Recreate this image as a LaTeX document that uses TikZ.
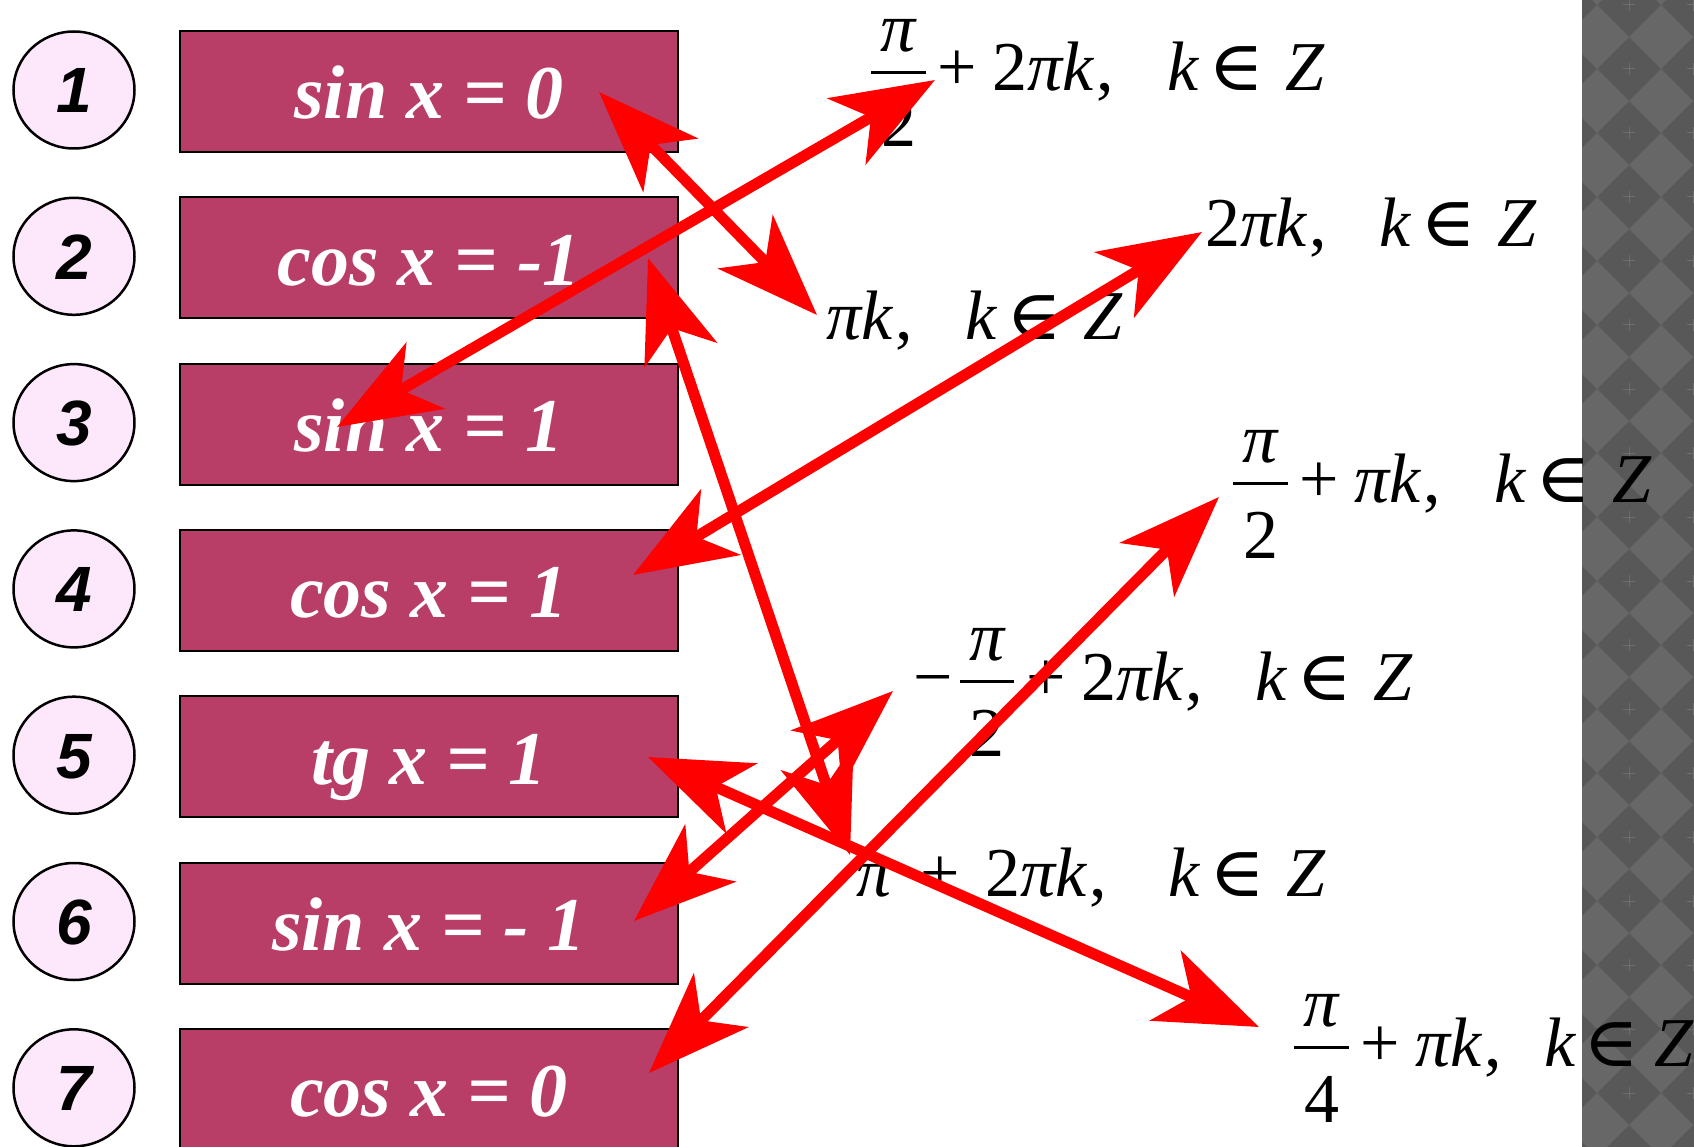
\documentclass[tikz,border=0pt]{standalone}
\usepackage{fontspec}
\usepackage{graphicx}
\setmainfont{Liberation Serif}
\newfontfamily\sansf{Liberation Sans}
\newfontfamily\symf{DejaVu Serif}
\usetikzlibrary{arrows.meta,shapes.geometric}
\definecolor{boxfill}{RGB}{184,62,104}
\definecolor{circfill}{RGB}{252,232,250}
\definecolor{stripdark}{RGB}{88,88,88}
\definecolor{striplight}{RGB}{103,103,103}
\definecolor{stripcross}{RGB}{110,110,110}
\definecolor{arrowred}{RGB}{255,0,0}
\newcommand\mI[1]{{\itshape #1}}
\newcommand\myfr[2]{\hbox{\setbox0\hbox{#1}\setbox2\hbox{#2}\dimen0=0.78em
  \rlap{\raise0.57em\hbox to\dimen0{\hss\box0\hss}}%
  \rlap{\raise0.245em\hbox{\vrule width\dimen0 height0.04em depth0pt}}%
  \lower0.8em\hbox to\dimen0{\hss\box2\hss}}}
\newcommand\pls{\hspace{0.17em}+\hspace{0.22em}}
\newcommand\cmk[1][0.76em]{\hspace{0.04em},\hspace{#1}}
\newcommand\inZ{\mI{k}\hspace{0.14em}\scalebox{1.08}[1]{\symf ∈}\hspace{0.3em}\mI{Z}}
\tikzset{
  bighead/.tip={Stealth[length=102pt,width=76pt,inset=28pt]},
  dbl/.style={draw=arrowred, line width=11pt, bighead-bighead},
  eqbox/.style={rectangle, draw=black, line width=2pt, fill=boxfill,
    minimum width=498pt, minimum height=121pt, inner sep=0pt, text=white,
    font=\fontsize{76}{80}\selectfont\bfseries\itshape, text height=55pt, text depth=0pt},
  numcirc/.style={ellipse, draw=black, line width=2.5pt, fill=circfill,
    minimum width=121pt, minimum height=117pt, inner sep=0pt,
    font=\sansf\fontsize{64}{70}\selectfont\bfseries\itshape, text height=46pt, text depth=0pt},
  fml/.style={anchor=base west, inner sep=0pt, font=\fontsize{70}{80}\selectfont}
}
\begin{document}
\begin{tikzpicture}[x=1pt,y=-1pt]
\useasboundingbox (0,0) rectangle (1694,1147);
\fill[white] (0,0) rectangle (1694,1147);
% patterned strip on the right
\begin{scope}
  \clip (1582,0) rectangle (1694,1147);
  \fill[stripdark] (1582,0) rectangle (1694,1147);
  \foreach \cx in {1533,1597,1661,1725}
    \foreach \cy in {-27,37,...,1189}
      \fill[striplight] (\cx,\cy-32) -- (\cx+32,\cy) -- (\cx,\cy+32) -- (\cx-32,\cy) -- cycle;
  \foreach \cx in {1565,1629,1693}
    \foreach \cy in {5,69,...,1157}
      \draw[stripcross, line width=1pt] (\cx-6,\cy) -- (\cx+6,\cy) (\cx,\cy-6) -- (\cx,\cy+6);
\end{scope}
% numbered circles and equation boxes
\node[numcirc] (c1) at (74,90) {1};
\node[numcirc] (c2) at (74,256.3) {2};
\node[numcirc] (c3) at (74,422.6) {3};
\node[numcirc] (c4) at (74,588.9) {4};
\node[numcirc] (c5) at (74,755.2) {5};
\node[numcirc] (c6) at (74,921.5) {6};
\node[numcirc] (c7) at (74,1087.8) {7};
\node[eqbox] (b1) at (429,91.5) {sin x = 0};
\node[eqbox] (b2) at (429,257.8) {cos x = -1};
\node[eqbox] (b3) at (429,424.1) {sin x = 1};
\node[eqbox] (b4) at (429,590.4) {cos x = 1};
\node[eqbox] (b5) at (429,756.7) {tg x = 1};
\node[eqbox] (b6) at (429,923.0) {sin x = - 1};
\node[eqbox] (b7) at (429,1089.3) {cos x = 0};
% solutions
\node[fml] (fA) at (871,91) {\myfr{\mI{π}}{2}\pls 2\mI{πk}\cmk\inZ};
\node[fml] (fB) at (1205,247) {2\mI{πk}\cmk\inZ};
\node[fml] (fC) at (826,340) {\mI{πk}\cmk\inZ};
\node[fml] (fD) at (1233,502) {\myfr{\mI{π}}{2}\pls\mI{πk}\cmk\inZ};
\node[fml] (fE) at (913,700) {−\hspace{0.1em}\myfr{\mI{π}}{2}\pls 2\mI{πk}\cmk\inZ};
\node[fml] (fF) at (856,896) {\mI{π}\hspace{0.42em}+\hspace{0.36em}2\mI{πk}\cmk[0.88em]\inZ};
\node[fml] (fG) at (1294,1066) {\myfr{\mI{π}}{4}\pls\mI{πk}\cmk[0.6em]\mI{k}\hspace{0.12em}\scalebox{1.08}[1]{\symf ∈}\hspace{0.22em}\mI{Z}};
% arrow end points
\coordinate (p1) at (599,92);   \coordinate (q1) at (817,315);
\coordinate (p2) at (337,427);  \coordinate (q2) at (935,80);
\coordinate (p3) at (648,258);  \coordinate (q3) at (850,855);
\coordinate (p4) at (633,575);  \coordinate (q4) at (1202,232);
\coordinate (p5) at (649,1073); \coordinate (q5) at (1219,497);
\coordinate (p6) at (634,921);  \coordinate (q6) at (893,691);
\coordinate (p7) at (648,757);  \coordinate (q7) at (1259,1027);
\draw[dbl] (p1) -- (q1);
\draw[dbl] (p2) -- (q2);
\draw[dbl] (p3) -- (q3);
\draw[dbl] (p4) -- (q4);
\draw[dbl] (p5) -- (q5);
\draw[dbl] (p6) -- (q6);
\draw[dbl] (p7) -- (q7);
\end{tikzpicture}
\end{document}
